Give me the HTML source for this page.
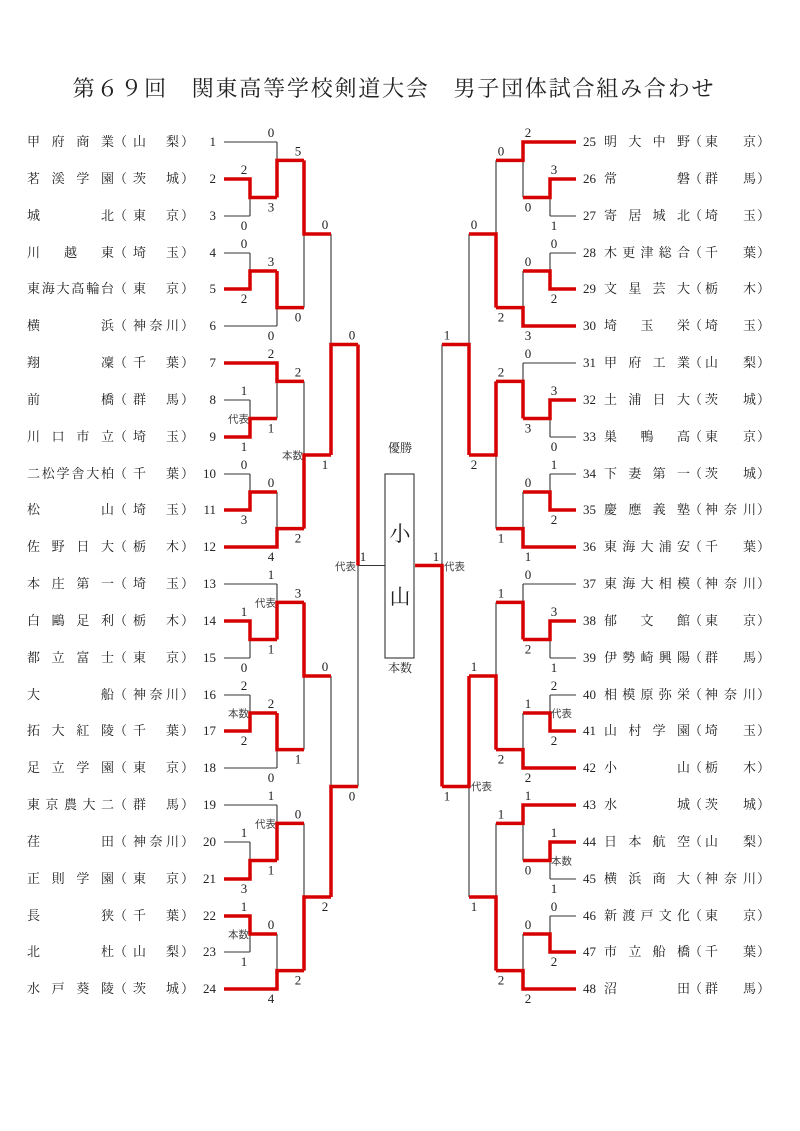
<!DOCTYPE html>
<html><head><meta charset="utf-8">
<style>
html,body{margin:0;padding:0;background:#fff;}
body{width:800px;height:1131px;position:relative;overflow:hidden;font-family:"Liberation Serif","Noto Serif CJK JP","Noto Serif CJK SC",serif;color:#222;}
.title{position:absolute;left:-6px;top:72px;width:800px;text-align:center;font-size:22px;letter-spacing:1.8px;font-family:"Liberation Serif","Noto Serif CJK JP","Noto Serif CJK SC",serif;}
.r{position:absolute;left:0;width:800px;height:18px;line-height:18px;font-size:13px;}
.r span{position:absolute;top:0;}
.nm,.pf{display:flex;justify-content:space-between;}
.nm i,.pf i{font-style:normal;display:block;}
.L .no{right:584px;text-align:right;}
.L .nm{left:27px;width:87px;}
.L .p1{left:114px;}
.L .pf{left:133px;width:46px;}
.L .p2{left:181px;}
.R .no{left:583px;}
.R .nm{left:604px;width:86px;}
.R .p1{left:689px;}
.R .pf{left:705px;width:51px;}
.R .p2{left:757px;}
svg{position:absolute;left:0;top:0;}
svg text{font-family:"Liberation Serif","Noto Serif CJK JP",serif;fill:#222;}
.s{font-size:13px;text-anchor:middle;}
.nl{font-size:10.5px;text-anchor:end;fill:#444;font-family:"Liberation Sans","Noto Sans CJK JP",sans-serif;}
.nr{font-size:10.5px;text-anchor:start;fill:#444;font-family:"Liberation Sans","Noto Sans CJK JP",sans-serif;}
.k{fill:none;stroke:#333;stroke-width:1.1;}
.red{fill:none;stroke:#d60000;stroke-width:3.5;stroke-linejoin:miter;}
</style></head><body>
<div class="title">第６９回　関東高等学校剣道大会　男子団体試合組み合わせ</div>

<svg width="800" height="1131" viewBox="0 0 800 1131">
<defs>
<path id="gs" d="M224 142H277 M224 179H250 M224 216H250 M224 253H250 M224 289H250 M224 326H277 M250 179V216 M250 197.5H277 M277 142V197.5 M277 160.4H304 M250 253V289 M250 271H277 M277 271V326 M277 307.6H304 M304 160.4V307.6 M304 234H331"/>
</defs>
<g class="k">
<use href="#gs"/>
<use href="#gs" transform="translate(0,221)"/>
<use href="#gs" transform="translate(0,442)"/>
<use href="#gs" transform="translate(0,663)"/>
<path d="M331 234V455 M331 344.5H358 M331 676V897 M331 786.5H358 M358 344.5V786.5 M358 565.5H385"/>
<g transform="translate(800,0) scale(-1,1)">
<use href="#gs"/>
<use href="#gs" transform="translate(0,221)"/>
<use href="#gs" transform="translate(0,442)"/>
<use href="#gs" transform="translate(0,663)"/>
<path d="M331 234V455 M331 344.5H358 M331 676V897 M331 786.5H358 M358 344.5V786.5 M358 565.5H385"/>
</g>
<rect x="385" y="474" width="29" height="184"/>
</g>

<g class="red">
<path d="M224 179H250V197.5H277 M277 197.5V160.4H304 M224 289H250V271H277 M277 271V307.6H304 M304 160.4V234H331"/>
<path transform="translate(0,221)" d="M224 216H250V197.5H277 M224 142H277V160.4H304 M224 289H250V271H277 M224 326H277V307.6H304 M304 307.6V234H331"/>
<path transform="translate(0,442)" d="M224 179H250V197.5H277 M277 197.5V160.4H304 M224 289H250V271H277 M277 271V307.6H304 M304 160.4V234H331"/>
<path transform="translate(0,663)" d="M224 216H250V197.5H277 M277 197.5V160.4H304 M224 253H250V271H277 M224 326H277V307.6H304 M304 307.6V234H331"/>
<path d="M331 455V344.5H358 M331 897V786.5H358 M358 344.5V565.5"/>
</g>
<g class="red" transform="translate(800,0) scale(-1,1)">
<path d="M224 179H250V197.5H277 M224 142H277V160.4H304 M224 289H250V271H277 M224 326H277V307.6H304 M304 307.6V234H331"/>
<path transform="translate(0,221)" d="M224 179H250V197.5H277 M277 197.5V160.4H304 M224 289H250V271H277 M224 326H277V307.6H304 M304 160.4V234H331"/>
<path transform="translate(0,442)" d="M224 179H250V197.5H277 M277 197.5V160.4H304 M224 289H250V271H277 M224 326H277V307.6H304 M304 307.6V234H331"/>
<path transform="translate(0,663)" d="M224 179H250V197.5H277 M224 142H277V160.4H304 M224 289H250V271H277 M224 326H277V307.6H304 M304 307.6V234H331"/>
<path d="M331 455V344.5H358 M331 676V786.5H358 M358 786.5V565.5H385"/>
</g>

<g>
<text class="s" x="244" y="174">2</text><text class="s" x="244" y="230">0</text>
<text class="s" x="271" y="137">0</text><text class="s" x="271" y="211.5">3</text>
<text class="s" x="244" y="248">0</text><text class="s" x="244" y="303">2</text>
<text class="s" x="271" y="266">3</text><text class="s" x="271" y="340">0</text>
<text class="s" x="298" y="155.4">5</text><text class="s" x="298" y="321.6">0</text>
</g>
<g transform="translate(0,221)">
<text class="s" x="244" y="174">1</text><text class="s" x="244" y="230">1</text>
<text class="s" x="271" y="137">2</text><text class="s" x="271" y="211.5">1</text>
<text class="s" x="244" y="248">0</text><text class="s" x="244" y="303">3</text>
<text class="s" x="271" y="266">0</text><text class="s" x="271" y="340">4</text>
<text class="s" x="298" y="155.4">2</text><text class="s" x="298" y="321.6">2</text>
<text class="nl" x="249" y="201.5">代表</text>
<text class="nl" x="303" y="238">本数</text>
</g>
<g transform="translate(0,442)">
<text class="s" x="244" y="174">1</text><text class="s" x="244" y="230">0</text>
<text class="s" x="271" y="137">1</text><text class="s" x="271" y="211.5">1</text>
<text class="s" x="244" y="248">2</text><text class="s" x="244" y="303">2</text>
<text class="s" x="271" y="266">2</text><text class="s" x="271" y="340">0</text>
<text class="s" x="298" y="155.4">3</text><text class="s" x="298" y="321.6">1</text>
<text class="nl" x="276" y="164.4">代表</text>
<text class="nl" x="249" y="275">本数</text>
</g>
<g transform="translate(0,663)">
<text class="s" x="244" y="174">1</text><text class="s" x="244" y="230">3</text>
<text class="s" x="271" y="137">1</text><text class="s" x="271" y="211.5">1</text>
<text class="s" x="244" y="248">1</text><text class="s" x="244" y="303">1</text>
<text class="s" x="271" y="266">0</text><text class="s" x="271" y="340">4</text>
<text class="s" x="298" y="155.4">0</text><text class="s" x="298" y="321.6">2</text>
<text class="nl" x="276" y="164.4">代表</text>
<text class="nl" x="249" y="275">本数</text>
</g>
<text class="s" x="325" y="229">0</text><text class="s" x="325" y="469">1</text>
<text class="s" x="325" y="671">0</text><text class="s" x="325" y="911">2</text>
<text class="s" x="352" y="339.5">0</text><text class="s" x="352" y="800.5">0</text>
<text class="s" x="363" y="561">1</text><text class="nl" x="356" y="570">代表</text>

<g>
<text class="s" x="554" y="174">3</text><text class="s" x="554" y="230">1</text>
<text class="s" x="528" y="137">2</text><text class="s" x="528" y="211.5">0</text>
<text class="s" x="554" y="248">0</text><text class="s" x="554" y="303">2</text>
<text class="s" x="528" y="266">0</text><text class="s" x="528" y="340">3</text>
<text class="s" x="501" y="155.4">0</text><text class="s" x="501" y="321.6">2</text>
</g>
<g transform="translate(0,221)">
<text class="s" x="554" y="174">3</text><text class="s" x="554" y="230">0</text>
<text class="s" x="528" y="137">0</text><text class="s" x="528" y="211.5">3</text>
<text class="s" x="554" y="248">1</text><text class="s" x="554" y="303">2</text>
<text class="s" x="528" y="266">0</text><text class="s" x="528" y="340">1</text>
<text class="s" x="501" y="155.4">2</text><text class="s" x="501" y="321.6">1</text>
</g>
<g transform="translate(0,442)">
<text class="s" x="554" y="174">3</text><text class="s" x="554" y="230">1</text>
<text class="s" x="528" y="137">0</text><text class="s" x="528" y="211.5">2</text>
<text class="s" x="554" y="248">2</text><text class="s" x="554" y="303">2</text>
<text class="s" x="528" y="266">1</text><text class="s" x="528" y="340">2</text>
<text class="s" x="501" y="155.4">1</text><text class="s" x="501" y="321.6">2</text>
<text class="nr" x="551" y="275">代表</text>
</g>
<g transform="translate(0,663)">
<text class="s" x="554" y="174">1</text><text class="s" x="554" y="230">1</text>
<text class="s" x="528" y="137">1</text><text class="s" x="528" y="211.5">0</text>
<text class="s" x="554" y="248">0</text><text class="s" x="554" y="303">2</text>
<text class="s" x="528" y="266">0</text><text class="s" x="528" y="340">2</text>
<text class="s" x="501" y="155.4">1</text><text class="s" x="501" y="321.6">2</text>
<text class="nr" x="551" y="201.5">本数</text>
</g>
<text class="s" x="474" y="229">0</text><text class="s" x="474" y="469">2</text>
<text class="s" x="474" y="671">1</text><text class="s" x="474" y="911">1</text>
<text class="nr" x="471" y="790">代表</text>
<text class="s" x="447" y="339.5">1</text><text class="s" x="447" y="800.5">1</text>
<text class="s" x="436" y="561">1</text><text class="nr" x="444" y="570">代表</text>

<text class="s" x="400" y="452" style="font-size:12px">優勝</text>
<text class="s" x="400" y="541" style="font-size:21px">小</text>
<text class="s" x="400" y="604" style="font-size:21px">山</text>
<text class="s" x="400" y="672" style="font-size:12px">本数</text>
</svg>

<div class="r L" style="top:133px"><span class="nm"><i>甲</i><i>府</i><i>商</i><i>業</i></span><span class="p1">（</span><span class="pf"><i>山</i><i>梨</i></span><span class="p2">）</span><span class="no">1</span></div>
<div class="r L" style="top:170px"><span class="nm"><i>茗</i><i>溪</i><i>学</i><i>園</i></span><span class="p1">（</span><span class="pf"><i>茨</i><i>城</i></span><span class="p2">）</span><span class="no">2</span></div>
<div class="r L" style="top:207px"><span class="nm"><i>城</i><i>北</i></span><span class="p1">（</span><span class="pf"><i>東</i><i>京</i></span><span class="p2">）</span><span class="no">3</span></div>
<div class="r L" style="top:244px"><span class="nm"><i>川</i><i>越</i><i>東</i></span><span class="p1">（</span><span class="pf"><i>埼</i><i>玉</i></span><span class="p2">）</span><span class="no">4</span></div>
<div class="r L" style="top:280px"><span class="nm"><i>東</i><i>海</i><i>大</i><i>高</i><i>輪</i><i>台</i></span><span class="p1">（</span><span class="pf"><i>東</i><i>京</i></span><span class="p2">）</span><span class="no">5</span></div>
<div class="r L" style="top:317px"><span class="nm"><i>横</i><i>浜</i></span><span class="p1">（</span><span class="pf"><i>神</i><i>奈</i><i>川</i></span><span class="p2">）</span><span class="no">6</span></div>
<div class="r L" style="top:354px"><span class="nm"><i>翔</i><i>凜</i></span><span class="p1">（</span><span class="pf"><i>千</i><i>葉</i></span><span class="p2">）</span><span class="no">7</span></div>
<div class="r L" style="top:391px"><span class="nm"><i>前</i><i>橋</i></span><span class="p1">（</span><span class="pf"><i>群</i><i>馬</i></span><span class="p2">）</span><span class="no">8</span></div>
<div class="r L" style="top:428px"><span class="nm"><i>川</i><i>口</i><i>市</i><i>立</i></span><span class="p1">（</span><span class="pf"><i>埼</i><i>玉</i></span><span class="p2">）</span><span class="no">9</span></div>
<div class="r L" style="top:465px"><span class="nm"><i>二</i><i>松</i><i>学</i><i>舎</i><i>大</i><i>柏</i></span><span class="p1">（</span><span class="pf"><i>千</i><i>葉</i></span><span class="p2">）</span><span class="no">10</span></div>
<div class="r L" style="top:501px"><span class="nm"><i>松</i><i>山</i></span><span class="p1">（</span><span class="pf"><i>埼</i><i>玉</i></span><span class="p2">）</span><span class="no">11</span></div>
<div class="r L" style="top:538px"><span class="nm"><i>佐</i><i>野</i><i>日</i><i>大</i></span><span class="p1">（</span><span class="pf"><i>栃</i><i>木</i></span><span class="p2">）</span><span class="no">12</span></div>
<div class="r L" style="top:575px"><span class="nm"><i>本</i><i>庄</i><i>第</i><i>一</i></span><span class="p1">（</span><span class="pf"><i>埼</i><i>玉</i></span><span class="p2">）</span><span class="no">13</span></div>
<div class="r L" style="top:612px"><span class="nm"><i>白</i><i>鷗</i><i>足</i><i>利</i></span><span class="p1">（</span><span class="pf"><i>栃</i><i>木</i></span><span class="p2">）</span><span class="no">14</span></div>
<div class="r L" style="top:649px"><span class="nm"><i>都</i><i>立</i><i>富</i><i>士</i></span><span class="p1">（</span><span class="pf"><i>東</i><i>京</i></span><span class="p2">）</span><span class="no">15</span></div>
<div class="r L" style="top:686px"><span class="nm"><i>大</i><i>船</i></span><span class="p1">（</span><span class="pf"><i>神</i><i>奈</i><i>川</i></span><span class="p2">）</span><span class="no">16</span></div>
<div class="r L" style="top:722px"><span class="nm"><i>拓</i><i>大</i><i>紅</i><i>陵</i></span><span class="p1">（</span><span class="pf"><i>千</i><i>葉</i></span><span class="p2">）</span><span class="no">17</span></div>
<div class="r L" style="top:759px"><span class="nm"><i>足</i><i>立</i><i>学</i><i>園</i></span><span class="p1">（</span><span class="pf"><i>東</i><i>京</i></span><span class="p2">）</span><span class="no">18</span></div>
<div class="r L" style="top:796px"><span class="nm"><i>東</i><i>京</i><i>農</i><i>大</i><i>二</i></span><span class="p1">（</span><span class="pf"><i>群</i><i>馬</i></span><span class="p2">）</span><span class="no">19</span></div>
<div class="r L" style="top:833px"><span class="nm"><i>荏</i><i>田</i></span><span class="p1">（</span><span class="pf"><i>神</i><i>奈</i><i>川</i></span><span class="p2">）</span><span class="no">20</span></div>
<div class="r L" style="top:870px"><span class="nm"><i>正</i><i>則</i><i>学</i><i>園</i></span><span class="p1">（</span><span class="pf"><i>東</i><i>京</i></span><span class="p2">）</span><span class="no">21</span></div>
<div class="r L" style="top:907px"><span class="nm"><i>長</i><i>狭</i></span><span class="p1">（</span><span class="pf"><i>千</i><i>葉</i></span><span class="p2">）</span><span class="no">22</span></div>
<div class="r L" style="top:943px"><span class="nm"><i>北</i><i>杜</i></span><span class="p1">（</span><span class="pf"><i>山</i><i>梨</i></span><span class="p2">）</span><span class="no">23</span></div>
<div class="r L" style="top:980px"><span class="nm"><i>水</i><i>戸</i><i>葵</i><i>陵</i></span><span class="p1">（</span><span class="pf"><i>茨</i><i>城</i></span><span class="p2">）</span><span class="no">24</span></div>

<div class="r R" style="top:133px"><span class="no">25</span><span class="nm"><i>明</i><i>大</i><i>中</i><i>野</i></span><span class="p1">（</span><span class="pf"><i>東</i><i>京</i></span><span class="p2">）</span></div>
<div class="r R" style="top:170px"><span class="no">26</span><span class="nm"><i>常</i><i>磐</i></span><span class="p1">（</span><span class="pf"><i>群</i><i>馬</i></span><span class="p2">）</span></div>
<div class="r R" style="top:207px"><span class="no">27</span><span class="nm"><i>寄</i><i>居</i><i>城</i><i>北</i></span><span class="p1">（</span><span class="pf"><i>埼</i><i>玉</i></span><span class="p2">）</span></div>
<div class="r R" style="top:244px"><span class="no">28</span><span class="nm"><i>木</i><i>更</i><i>津</i><i>総</i><i>合</i></span><span class="p1">（</span><span class="pf"><i>千</i><i>葉</i></span><span class="p2">）</span></div>
<div class="r R" style="top:280px"><span class="no">29</span><span class="nm"><i>文</i><i>星</i><i>芸</i><i>大</i></span><span class="p1">（</span><span class="pf"><i>栃</i><i>木</i></span><span class="p2">）</span></div>
<div class="r R" style="top:317px"><span class="no">30</span><span class="nm"><i>埼</i><i>玉</i><i>栄</i></span><span class="p1">（</span><span class="pf"><i>埼</i><i>玉</i></span><span class="p2">）</span></div>
<div class="r R" style="top:354px"><span class="no">31</span><span class="nm"><i>甲</i><i>府</i><i>工</i><i>業</i></span><span class="p1">（</span><span class="pf"><i>山</i><i>梨</i></span><span class="p2">）</span></div>
<div class="r R" style="top:391px"><span class="no">32</span><span class="nm"><i>土</i><i>浦</i><i>日</i><i>大</i></span><span class="p1">（</span><span class="pf"><i>茨</i><i>城</i></span><span class="p2">）</span></div>
<div class="r R" style="top:428px"><span class="no">33</span><span class="nm"><i>巣</i><i>鴨</i><i>高</i></span><span class="p1">（</span><span class="pf"><i>東</i><i>京</i></span><span class="p2">）</span></div>
<div class="r R" style="top:465px"><span class="no">34</span><span class="nm"><i>下</i><i>妻</i><i>第</i><i>一</i></span><span class="p1">（</span><span class="pf"><i>茨</i><i>城</i></span><span class="p2">）</span></div>
<div class="r R" style="top:501px"><span class="no">35</span><span class="nm"><i>慶</i><i>應</i><i>義</i><i>塾</i></span><span class="p1">（</span><span class="pf"><i>神</i><i>奈</i><i>川</i></span><span class="p2">）</span></div>
<div class="r R" style="top:538px"><span class="no">36</span><span class="nm"><i>東</i><i>海</i><i>大</i><i>浦</i><i>安</i></span><span class="p1">（</span><span class="pf"><i>千</i><i>葉</i></span><span class="p2">）</span></div>
<div class="r R" style="top:575px"><span class="no">37</span><span class="nm"><i>東</i><i>海</i><i>大</i><i>相</i><i>模</i></span><span class="p1">（</span><span class="pf"><i>神</i><i>奈</i><i>川</i></span><span class="p2">）</span></div>
<div class="r R" style="top:612px"><span class="no">38</span><span class="nm"><i>郁</i><i>文</i><i>館</i></span><span class="p1">（</span><span class="pf"><i>東</i><i>京</i></span><span class="p2">）</span></div>
<div class="r R" style="top:649px"><span class="no">39</span><span class="nm"><i>伊</i><i>勢</i><i>崎</i><i>興</i><i>陽</i></span><span class="p1">（</span><span class="pf"><i>群</i><i>馬</i></span><span class="p2">）</span></div>
<div class="r R" style="top:686px"><span class="no">40</span><span class="nm"><i>相</i><i>模</i><i>原</i><i>弥</i><i>栄</i></span><span class="p1">（</span><span class="pf"><i>神</i><i>奈</i><i>川</i></span><span class="p2">）</span></div>
<div class="r R" style="top:722px"><span class="no">41</span><span class="nm"><i>山</i><i>村</i><i>学</i><i>園</i></span><span class="p1">（</span><span class="pf"><i>埼</i><i>玉</i></span><span class="p2">）</span></div>
<div class="r R" style="top:759px"><span class="no">42</span><span class="nm"><i>小</i><i>山</i></span><span class="p1">（</span><span class="pf"><i>栃</i><i>木</i></span><span class="p2">）</span></div>
<div class="r R" style="top:796px"><span class="no">43</span><span class="nm"><i>水</i><i>城</i></span><span class="p1">（</span><span class="pf"><i>茨</i><i>城</i></span><span class="p2">）</span></div>
<div class="r R" style="top:833px"><span class="no">44</span><span class="nm"><i>日</i><i>本</i><i>航</i><i>空</i></span><span class="p1">（</span><span class="pf"><i>山</i><i>梨</i></span><span class="p2">）</span></div>
<div class="r R" style="top:870px"><span class="no">45</span><span class="nm"><i>横</i><i>浜</i><i>商</i><i>大</i></span><span class="p1">（</span><span class="pf"><i>神</i><i>奈</i><i>川</i></span><span class="p2">）</span></div>
<div class="r R" style="top:907px"><span class="no">46</span><span class="nm"><i>新</i><i>渡</i><i>戸</i><i>文</i><i>化</i></span><span class="p1">（</span><span class="pf"><i>東</i><i>京</i></span><span class="p2">）</span></div>
<div class="r R" style="top:943px"><span class="no">47</span><span class="nm"><i>市</i><i>立</i><i>船</i><i>橋</i></span><span class="p1">（</span><span class="pf"><i>千</i><i>葉</i></span><span class="p2">）</span></div>
<div class="r R" style="top:980px"><span class="no">48</span><span class="nm"><i>沼</i><i>田</i></span><span class="p1">（</span><span class="pf"><i>群</i><i>馬</i></span><span class="p2">）</span></div>
</body></html>
